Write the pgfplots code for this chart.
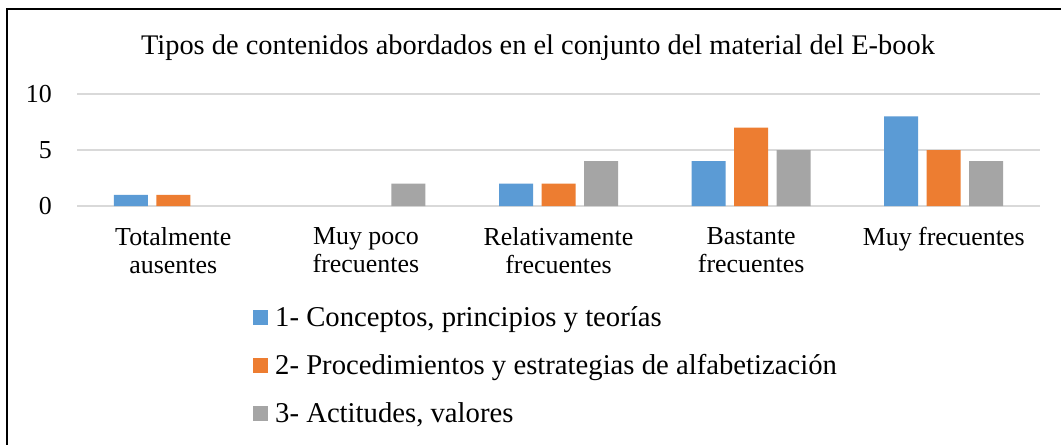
\documentclass[border=0pt]{standalone}
\usepackage{pgfplots}
\pgfplotsset{compat=1.18}
\usepackage{fontspec}
\setmainfont{Liberation Serif}
\definecolor{c1}{HTML}{5B9BD5}
\definecolor{c2}{HTML}{ED7D31}
\definecolor{c3}{HTML}{A5A5A5}
\definecolor{gridc}{HTML}{D9D9D9}
\begin{document}
\begin{tikzpicture}[x=1bp,y=1bp]
\path[use as bounding box] (0,0) rectangle (1061,-445);
\clip (0,0) rectangle (1061,-445);
\fill[white] (0,0) rectangle (1061,-445);
\draw[line width=1.6bp, black] (7,-9) rectangle (1080,-470);
\node[font=\fontsize{28.5}{34}\selectfont, anchor=base, inner sep=0pt] at (538,-55) {Tipos de contenidos abordados en el conjunto del material del E-book};
\begin{axis}[
  at={(77bp,-206bp)}, anchor=south west,
  scale only axis, width=963bp, height=112bp,
  xmin=-0.5, xmax=4.5, ymin=0, ymax=10,
  ytick={0,5,10}, xtick={0,1,2,3,4},
  xticklabels={{Totalmente\\ausentes},{Muy poco\\frecuentes},{Relativamente\\frecuentes},{Bastante\\frecuentes},{Muy frecuentes}},
  ymajorgrids, grid style={gridc, line width=1.5bp},
  axis line style={draw=none}, major tick length=0pt,
  /pgf/number format/assume math mode=true,
  yticklabel style={font=\fontsize{26}{30}\selectfont, anchor=east, inner sep=0pt, xshift=-25bp},
  xticklabel style={font=\fontsize{26}{28}\selectfont, align=center, anchor=north, inner sep=0pt, yshift=-21bp},
  ybar=8.5bp, bar width=34bp,
  legend style={draw=none, fill=none, at={(0.1828,-0.897)}, anchor=north west,
    font=\fontsize{28.8}{34}\selectfont, inner sep=0pt, row sep=22bp,
    nodes={inner sep=0pt, text height=20bp, text depth=6bp},
    /tikz/every odd column/.append style={column sep=7bp}},
  legend cell align=left,
  legend image code/.code={\fill[#1] (0bp,-5.5bp) rectangle (15bp,9.5bp);},
]
% zero values (no bar drawn): series 1 and 2 at "Muy poco frecuentes", series 3 at "Totalmente ausentes"
\addplot[fill=c1, draw=none] coordinates {(0,1) (2,2) (3,4) (4,8)};
\addplot[fill=c2, draw=none] coordinates {(0,1) (2,2) (3,7) (4,5)};
\addplot[fill=c3, draw=none] coordinates {(1,2) (2,4) (3,5) (4,4)};
\legend{{1- Conceptos, principios y teorías}, {2- Procedimientos y estrategias de alfabetización}, {3- Actitudes, valores}}
\end{axis}
\end{tikzpicture}
\end{document}
